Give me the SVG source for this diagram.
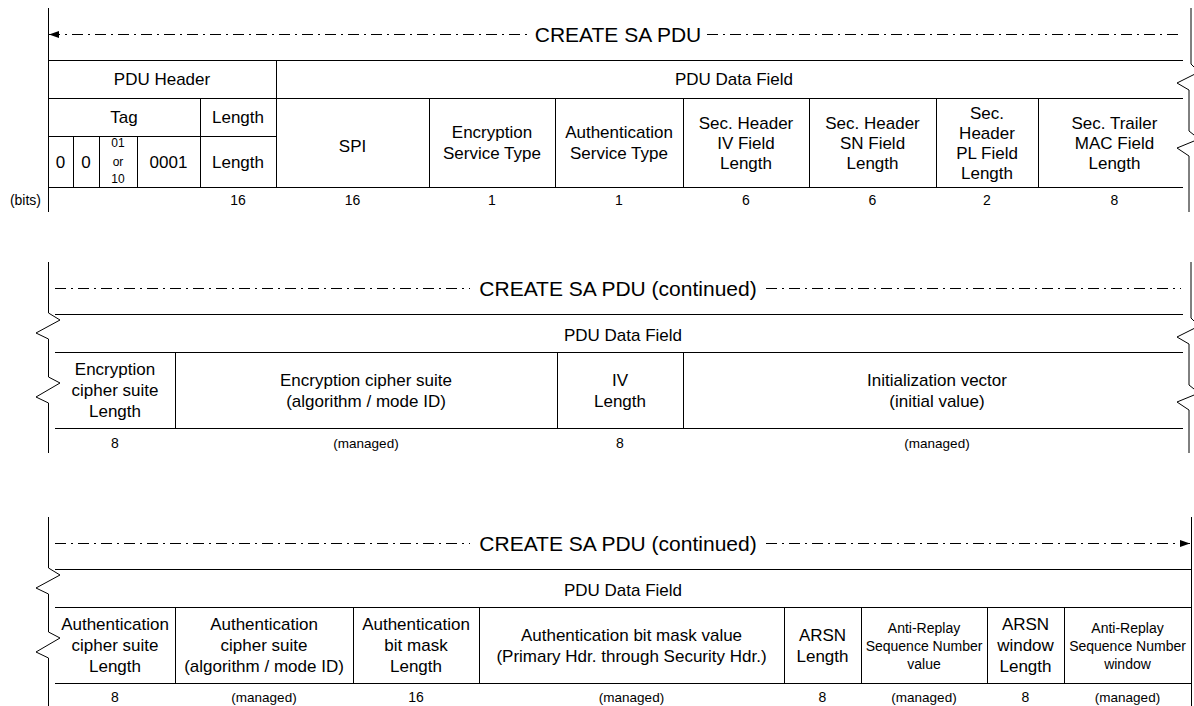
<svg xmlns="http://www.w3.org/2000/svg" width="1194" height="706" viewBox="0 0 1194 706">
<defs>
<style>
text{font-family:"Liberation Sans",Arial,sans-serif;fill:#000;text-anchor:middle}
.f{font-size:17px}
.t{font-size:21px}
.s{font-size:14px}
.xs{font-size:12px}
.b{font-size:14px}
.m{font-size:13.5px}
.ln{stroke:#000;stroke-width:1;fill:none}
.dd{stroke:#000;stroke-width:1;fill:none;stroke-dasharray:11 5 2 5}
</style>
<marker id="arr" viewBox="0 0 10 7" refX="10" refY="3.5" markerWidth="10" markerHeight="7" markerUnits="userSpaceOnUse" orient="auto-start-reverse">
<path d="M0,0 L10,3.5 L0,7 z" fill="#000"/>
</marker>
</defs>
<rect width="1194" height="706" fill="#fff"/>

<!-- Section 1 frame -->
<g id="s1-frame" class="ln">
<path d="M48.5,8 V212"/>
<path d="M1191,8 V64 L1199,72 L1177,83 L1189,90 V131 L1199,139 L1177,148 L1189,156 V212"/>
<path d="M48,60.5 H1183 M48,98.5 H1183 M48,136.5 H276 M48,187.5 H1183"/>
<path d="M276.5,60 V187 M200.5,98 V187 M73.5,136 V187 M99.5,136 V187 M137.5,136 V187"/>
<path d="M429.5,98 V187 M555.5,98 V187 M683.5,98 V187 M809.5,98 V187 M936.5,98 V187 M1038.5,98 V187"/>
</g>

<!-- Section 2 frame -->
<g id="s2-frame" class="ln">
<path d="M48.5,262 V313 L60,320 L36,333 L48.5,339 V377 L60,383 L36,397 L48.5,403 V453"/>
<path d="M1191,262 V318 L1199,326 L1177,337 L1189,344 V385 L1199,393 L1177,402 L1189,410 V453"/>
<path d="M55,314.5 H1183 M55,352.5 H1183 M55,428.5 H1183"/>
<path d="M175.5,352 V428 M557.5,352 V428 M683.5,352 V428"/>
</g>

<!-- Section 3 frame -->
<g id="s3-frame" class="ln">
<path d="M48.5,517 V568 L60,575 L36,588 L48.5,594 V632 L60,638 L36,652 L48.5,658 V706"/>
<path d="M1191.5,517 V706"/>
<path d="M55,569.5 H1191 M55,607.5 H1191 M55,683.5 H1191"/>
<path d="M175.5,607 V683 M353.5,607 V683 M479.5,607 V683 M784.5,607 V683 M861.5,607 V683 M987.5,607 V683 M1064.5,607 V683"/>
</g>

<!-- Connectors (title arrows) -->
<g id="connectors">
<line class="dd" x1="49" y1="34.5" x2="530" y2="34.5" marker-start="url(#arr)"/>
<line class="dd" x1="707" y1="34.5" x2="1182" y2="34.5"/>
<line class="dd" x1="55" y1="288.5" x2="470" y2="288.5"/>
<line class="dd" x1="766" y1="288.5" x2="1181" y2="288.5"/>
<line class="dd" x1="55" y1="543.5" x2="470" y2="543.5"/>
<line class="dd" x1="766" y1="543.5" x2="1190" y2="543.5" marker-end="url(#arr)"/>
</g>

<!-- Section 1 nodes -->
<g id="s1-title"><text class="t" x="618" y="41.5">CREATE SA PDU</text></g>
<g id="s1-pdu-header"><text class="f" x="162" y="85">PDU Header</text></g>
<g id="s1-pdu-data"><text class="f" x="734" y="85">PDU Data Field</text></g>
<g id="s1-tag"><text class="f" x="124" y="123">Tag</text></g>
<g id="s1-length-hdr"><text class="f" x="238" y="123">Length</text></g>
<g id="s1-bit0a"><text class="f" x="60.5" y="168">0</text></g>
<g id="s1-bit0b"><text class="f" x="86" y="168">0</text></g>
<g id="s1-type"><text class="xs" x="118" y="147">01</text><text class="xs" x="118" y="165.5">or</text><text class="xs" x="118" y="183">10</text></g>
<g id="s1-0001"><text class="f" x="168.5" y="168">0001</text></g>
<g id="s1-length"><text class="f" x="238" y="168">Length</text></g>
<g id="s1-spi"><text class="f" x="352.5" y="152">SPI</text></g>
<g id="s1-est"><text class="f" x="492" y="138">Encryption</text><text class="f" x="492" y="159">Service Type</text></g>
<g id="s1-ast"><text class="f" x="619" y="138">Authentication</text><text class="f" x="619" y="159">Service Type</text></g>
<g id="s1-iv"><text class="f" x="746" y="129">Sec. Header</text><text class="f" x="746" y="149">IV Field</text><text class="f" x="746" y="169">Length</text></g>
<g id="s1-sn"><text class="f" x="872.5" y="129">Sec. Header</text><text class="f" x="872.5" y="149">SN Field</text><text class="f" x="872.5" y="169">Length</text></g>
<g id="s1-pl"><text class="f" x="987" y="119">Sec.</text><text class="f" x="987" y="139">Header</text><text class="f" x="987" y="159">PL Field</text><text class="f" x="987" y="179">Length</text></g>
<g id="s1-mac"><text class="f" x="1114.5" y="129">Sec. Trailer</text><text class="f" x="1114.5" y="149">MAC Field</text><text class="f" x="1114.5" y="169">Length</text></g>
<g id="s1-bits">
<text class="b" x="41" y="205" style="text-anchor:end">(bits)</text>
<text class="b" x="238" y="205">16</text>
<text class="b" x="352.5" y="205">16</text>
<text class="b" x="492" y="205">1</text>
<text class="b" x="619" y="205">1</text>
<text class="b" x="746" y="205">6</text>
<text class="b" x="872.5" y="205">6</text>
<text class="b" x="987" y="205">2</text>
<text class="b" x="1114.5" y="205">8</text>
</g>

<!-- Section 2 nodes -->
<g id="s2-title"><text class="t" x="618" y="295.5">CREATE SA PDU (continued)</text></g>
<g id="s2-pdu-data"><text class="f" x="623" y="341">PDU Data Field</text></g>
<g id="s2-ecs-len"><text class="f" x="115" y="375">Encryption</text><text class="f" x="115" y="396">cipher suite</text><text class="f" x="115" y="417">Length</text></g>
<g id="s2-ecs"><text class="f" x="366" y="385.5">Encryption cipher suite</text><text class="f" x="366" y="406.5">(algorithm / mode ID)</text></g>
<g id="s2-iv-len"><text class="f" x="620" y="385.5">IV</text><text class="f" x="620" y="406.5">Length</text></g>
<g id="s2-iv"><text class="f" x="937" y="385.5">Initialization vector</text><text class="f" x="937" y="406.5">(initial value)</text></g>
<g id="s2-bits">
<text class="b" x="115" y="448">8</text>
<text class="m" x="366" y="448">(managed)</text>
<text class="b" x="620" y="448">8</text>
<text class="m" x="937" y="448">(managed)</text>
</g>

<!-- Section 3 nodes -->
<g id="s3-title"><text class="t" x="618" y="550.5">CREATE SA PDU (continued)</text></g>
<g id="s3-pdu-data"><text class="f" x="623" y="596">PDU Data Field</text></g>
<g id="s3-acs-len"><text class="f" x="115" y="630">Authentication</text><text class="f" x="115" y="651">cipher suite</text><text class="f" x="115" y="672">Length</text></g>
<g id="s3-acs"><text class="f" x="264" y="630">Authentication</text><text class="f" x="264" y="651">cipher suite</text><text class="f" x="264" y="672">(algorithm / mode ID)</text></g>
<g id="s3-abm-len"><text class="f" x="416" y="630">Authentication</text><text class="f" x="416" y="651">bit mask</text><text class="f" x="416" y="672">Length</text></g>
<g id="s3-abm"><text class="f" x="631.5" y="640.5">Authentication bit mask value</text><text class="f" x="631.5" y="661.5">(Primary Hdr. through Security Hdr.)</text></g>
<g id="s3-arsn-len"><text class="f" x="822.5" y="640.5">ARSN</text><text class="f" x="822.5" y="661.5">Length</text></g>
<g id="s3-arsn"><text class="s" x="924" y="632.5">Anti-Replay</text><text class="s" x="924" y="650.5">Sequence Number</text><text class="s" x="924" y="668.5">value</text></g>
<g id="s3-arsnw-len"><text class="f" x="1025.5" y="630">ARSN</text><text class="f" x="1025.5" y="651">window</text><text class="f" x="1025.5" y="672">Length</text></g>
<g id="s3-arsnw"><text class="s" x="1127.5" y="632.5">Anti-Replay</text><text class="s" x="1127.5" y="650.5">Sequence Number</text><text class="s" x="1127.5" y="668.5">window</text></g>
<g id="s3-bits">
<text class="b" x="115" y="702">8</text>
<text class="m" x="264" y="702">(managed)</text>
<text class="b" x="416" y="702">16</text>
<text class="m" x="631.5" y="702">(managed)</text>
<text class="b" x="822.5" y="702">8</text>
<text class="m" x="924" y="702">(managed)</text>
<text class="b" x="1025.5" y="702">8</text>
<text class="m" x="1127.5" y="702">(managed)</text>
</g>
</svg>
